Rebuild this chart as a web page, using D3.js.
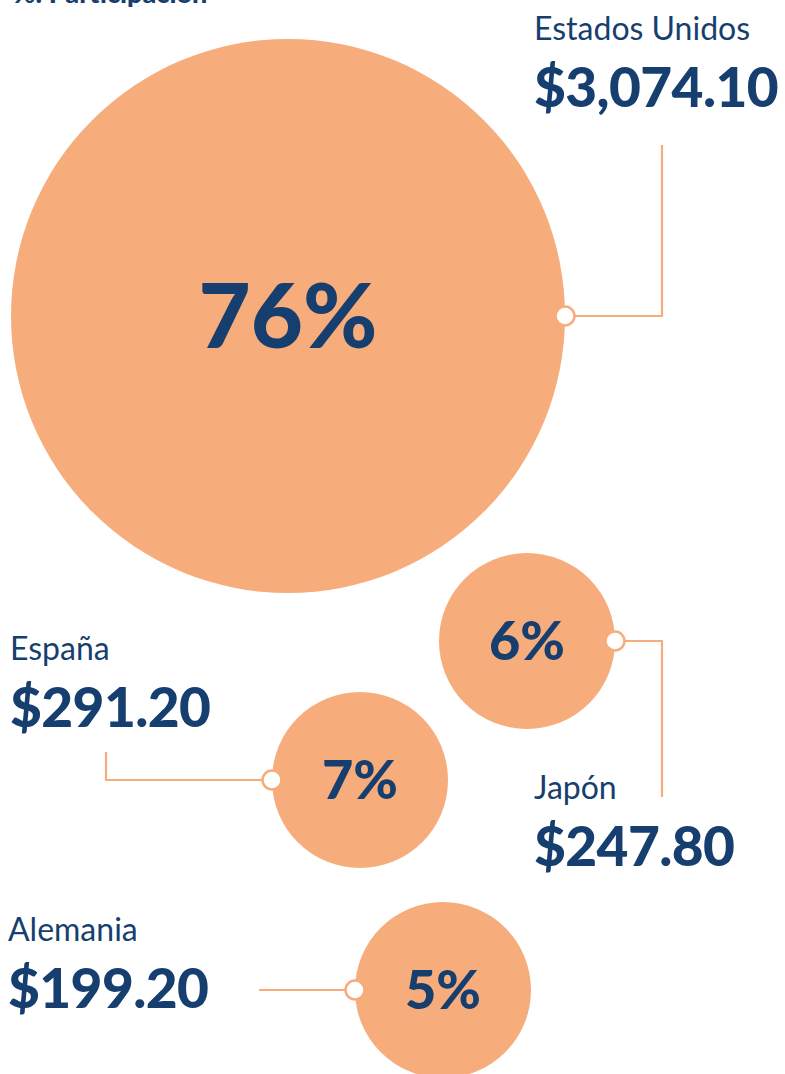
<!DOCTYPE html>
<html>
<head>
<meta charset="utf-8">
<script src="https://cdn.jsdelivr.net/npm/d3@7"></script>
<style>
  html, body { margin: 0; padding: 0; background: #fff; }
  svg { display: block; }
  text { font-family: Lato, "Open Sans", sans-serif; }
</style>
</head>
<body>
<script>
// ---- data ----
const countries = ["Estados Unidos", "Japón", "España", "Alemania"];
const amounts = [3074.10, 247.80, 291.20, 199.20];
const shares = [76, 6, 7, 5];
const title = "%: Participación";

// ---- layout (positions only) ----
const W = 785, H = 1074;
const ORANGE = "#F7AC7B", NAVY = "#163F6F";
const layout = [
  { cx: 288, cy: 316, side: "right", elbowX: 662, endY: 145, lx: 534, ly: 40 },
  { cx: 527, cy: 641, side: "right", elbowX: 662, endY: 797, lx: 534, ly: 799 },
  { cx: 360, cy: 780, side: "left",  elbowX: 106, endY: 752, lx: 10,  ly: 660 },
  { cx: 443, cy: 990, side: "left",  elbowX: 259, endY: null, lx: 8,  ly: 941 }
];

const rScale = d3.scaleLinear().domain([10, 76]).range([88, 277]).clamp(true);
const fmt = d3.format("$,.2f");

const svg = d3.select("body").append("svg").attr("width", W).attr("height", H);

svg.append("text").attr("x", 13).attr("y", 3)
  .attr("fill", NAVY).attr("font-weight", 900).attr("font-size", 27)
  .text(title);

const data = countries.map((c, i) => ({ name: c, amount: amounts[i], share: shares[i], ...layout[i] }));

const g = svg.selectAll("g.bubble").data(data).enter().append("g").attr("class", "bubble");

g.append("circle")
  .attr("cx", d => d.cx).attr("cy", d => d.cy)
  .attr("r", d => rScale(d.share))
  .attr("fill", ORANGE);

// connectors
g.append("path")
  .attr("d", d => {
    const r = rScale(d.share);
    const x0 = d.side === "right" ? d.cx + r : d.cx - r;
    const p = d3.path();
    p.moveTo(x0, d.cy);
    p.lineTo(d.elbowX, d.cy);
    if (d.endY !== null) p.lineTo(d.elbowX, d.endY);
    return p.toString();
  })
  .attr("fill", "none").attr("stroke", ORANGE).attr("stroke-width", 2.2);

g.append("circle")
  .attr("cx", d => d.side === "right" ? d.cx + rScale(d.share) : d.cx - rScale(d.share))
  .attr("cy", d => d.cy)
  .attr("r", 9.5)
  .attr("fill", "#fff").attr("stroke", ORANGE).attr("stroke-width", 2.5);

// percentage labels
g.append("text")
  .attr("x", d => d.cx)
  .attr("y", d => d.cy + (d.share > 50 ? 32 : 19))
  .attr("text-anchor", "middle")
  .attr("fill", NAVY).attr("font-weight", 900)
  .attr("font-size", d => d.share > 50 ? 90 : 54)
  .text(d => d.share + "%");

// country names
g.append("text")
  .attr("x", d => d.lx).attr("y", d => d.ly)
  .attr("fill", NAVY).attr("font-weight", 400).attr("font-size", 32)
  .text(d => d.name);

// amounts
g.append("text")
  .attr("x", d => d.lx).attr("y", d => d.ly + 67)
  .attr("fill", NAVY).attr("font-weight", 900).attr("font-size", 55)
  .attr("letter-spacing", -0.6)
  .text(d => fmt(d.amount));
</script>
</body>
</html>
